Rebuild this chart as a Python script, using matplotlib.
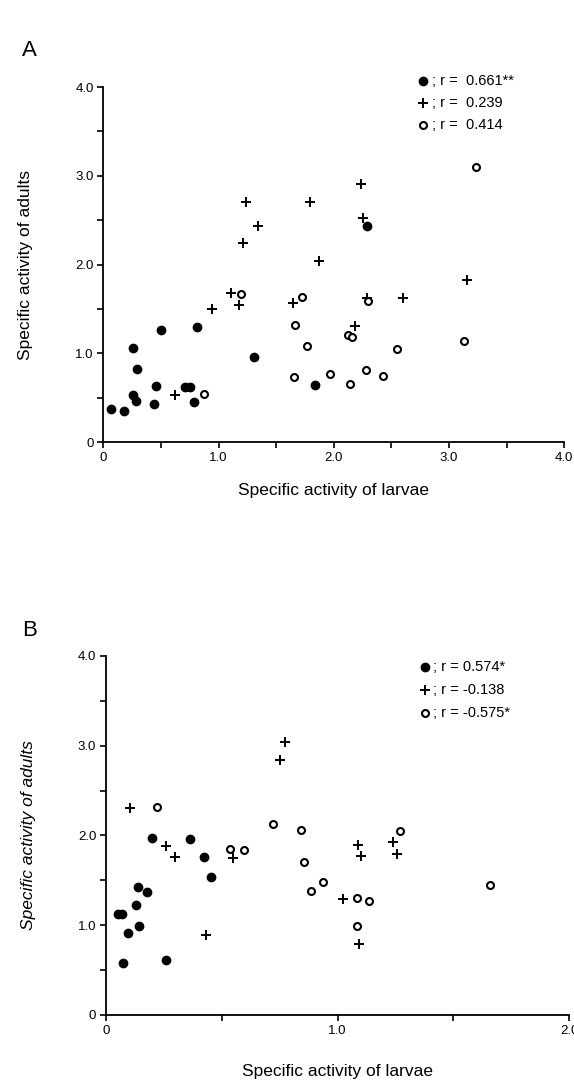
import numpy as np
import matplotlib
matplotlib.use("Agg")
import matplotlib.pyplot as plt

plt.rcParams['font.family'] = ['Liberation Sans', 'DejaVu Sans']

# panel A : larvae vs adults, three groups
a_filled_x = [0.067, 0.177, 0.26, 0.29, 0.26, 0.28, 0.457, 0.443, 0.50, 0.709, 0.755, 0.787, 0.813, 1.31, 1.834, 2.29]
a_filled_y = [0.37, 0.35, 1.06, 0.83, 0.53, 0.47, 0.63, 0.435, 1.26, 0.62, 0.62, 0.45, 1.30, 0.965, 0.646, 2.43]
a_plus_x = [0.622, 0.94, 1.108, 1.18, 1.643, 1.87, 1.238, 1.345, 1.215, 1.793, 2.233, 2.256, 3.158, 2.29, 2.60, 2.187]
a_plus_y = [0.537, 1.50, 1.68, 1.55, 1.567, 2.04, 2.70, 2.44, 2.247, 2.70, 2.91, 2.52, 1.83, 1.62, 1.62, 1.31]
a_open_x = [0.871, 1.195, 1.72, 1.663, 1.767, 1.655, 1.964, 2.14, 2.28, 2.43, 2.126, 2.158, 2.30, 2.546, 3.127, 3.234]
a_open_y = [0.548, 1.668, 1.635, 1.32, 1.08, 0.733, 0.77, 0.654, 0.815, 0.75, 1.206, 1.18, 1.59, 1.05, 1.145, 3.10]
a_labels = ["; r =  0.661**", "; r =  0.239", "; r =  0.414"]

# panel B
b_filled_x = [0.20, 0.364, 0.423, 0.452, 0.05, 0.067, 0.094, 0.137, 0.13, 0.176, 0.144, 0.072, 0.258]
b_filled_y = [1.97, 1.96, 1.763, 1.537, 1.13, 1.13, 0.91, 1.425, 1.23, 1.366, 0.99, 0.58, 0.616]
b_plus_x = [0.102, 0.75, 0.773, 0.259, 0.298, 0.55, 0.43, 1.025, 1.094, 1.09, 1.10, 1.241, 1.258]
b_plus_y = [2.31, 2.84, 3.04, 1.885, 1.756, 1.745, 0.887, 1.29, 0.79, 1.893, 1.774, 1.93, 1.793]
b_open_x = [0.222, 0.536, 0.596, 0.721, 0.841, 0.855, 0.884, 0.936, 1.084, 1.137, 1.084, 1.657, 1.27]
b_open_y = [2.316, 1.852, 1.834, 2.124, 2.064, 1.71, 1.377, 1.48, 1.303, 1.266, 0.99, 1.444, 2.05]
b_labels = ["; r = 0.574*", "; r = -0.138", "; r = -0.575*"]

styles = [
    dict(marker='o', markersize=6, color='black', linestyle='none'),
    dict(marker='+', markersize=7, markeredgewidth=1.4, color='black', linestyle='none'),
    dict(marker='o', markersize=5, markerfacecolor='white', markeredgecolor='black',
         markeredgewidth=1.5, linestyle='none'),
]


def setupAxes(ax, xmax, xpad, ylabel_italic):
    ax.spines['top'].set_visible(False)
    ax.spines['right'].set_visible(False)
    ax.spines['left'].set_linewidth(1.3)
    ax.spines['bottom'].set_linewidth(1.3)
    ax.set_xlim(0, xmax)
    ax.set_ylim(0, 4.0)
    xt = np.arange(0, xmax + 0.01, 0.5)
    ax.set_xticks(xt)
    ax.set_xticklabels(["0" if v == 0 else ("%.1f" % v if v == int(v) else "") for v in xt])
    yt = np.arange(0, 4.01, 0.5)
    ax.set_yticks(yt)
    ax.set_yticklabels(["0" if v == 0 else ("%.1f" % v if v == int(v) else "") for v in yt])
    ax.tick_params(direction='out', length=4, width=1.2, labelsize=9.5, pad=3)
    ax.set_xlabel('Specific activity of larvae', fontsize=12.5, labelpad=xpad)
    ax.set_ylabel('Specific activity of adults', fontsize=12.5, labelpad=30,
                  style='italic' if ylabel_italic else 'normal')


fig = plt.figure(figsize=(5.74, 10.88), dpi=100)

axA = fig.add_axes([0.18, 0.5935, 0.8031, 0.3265])
axA.plot(a_filled_x, a_filled_y, clip_on=False, **styles[0])
axA.plot(a_plus_x, a_plus_y, clip_on=False, **styles[1])
axA.plot(a_open_x, a_open_y, clip_on=False, **styles[2])
setupAxes(axA, 4.0, 14, False)
for i, lab in enumerate(a_labels):
    yy = [1.017, 0.955, 0.893][i]
    axA.plot([0.693], [yy], transform=axA.transAxes, clip_on=False, **styles[i])
    axA.text(0.712, yy, lab, transform=axA.transAxes, va='center', ha='left', fontsize=10.5)

axB = fig.add_axes([0.1847, 0.0671, 0.8066, 0.330])
axB.plot(b_filled_x, b_filled_y, clip_on=False, **styles[0])
axB.plot(b_plus_x, b_plus_y, clip_on=False, **styles[1])
axB.plot(b_open_x, b_open_y, clip_on=False, **styles[2])
setupAxes(axB, 2.0, 20, True)
for i, lab in enumerate(b_labels):
    yy = [0.969, 0.905, 0.840][i]
    axB.plot([0.688], [yy], transform=axB.transAxes, clip_on=False, **styles[i])
    axB.text(0.706, yy, lab, transform=axB.transAxes, va='center', ha='left', fontsize=10.5)

fig.text(22 / 574, 1 - 50 / 1088, 'A', fontsize=16, va='center', ha='left')
fig.text(22 / 574, 1 - 630 / 1088, 'B', fontsize=16, va='center', ha='left')

fig.savefig('out.png', dpi=100)
